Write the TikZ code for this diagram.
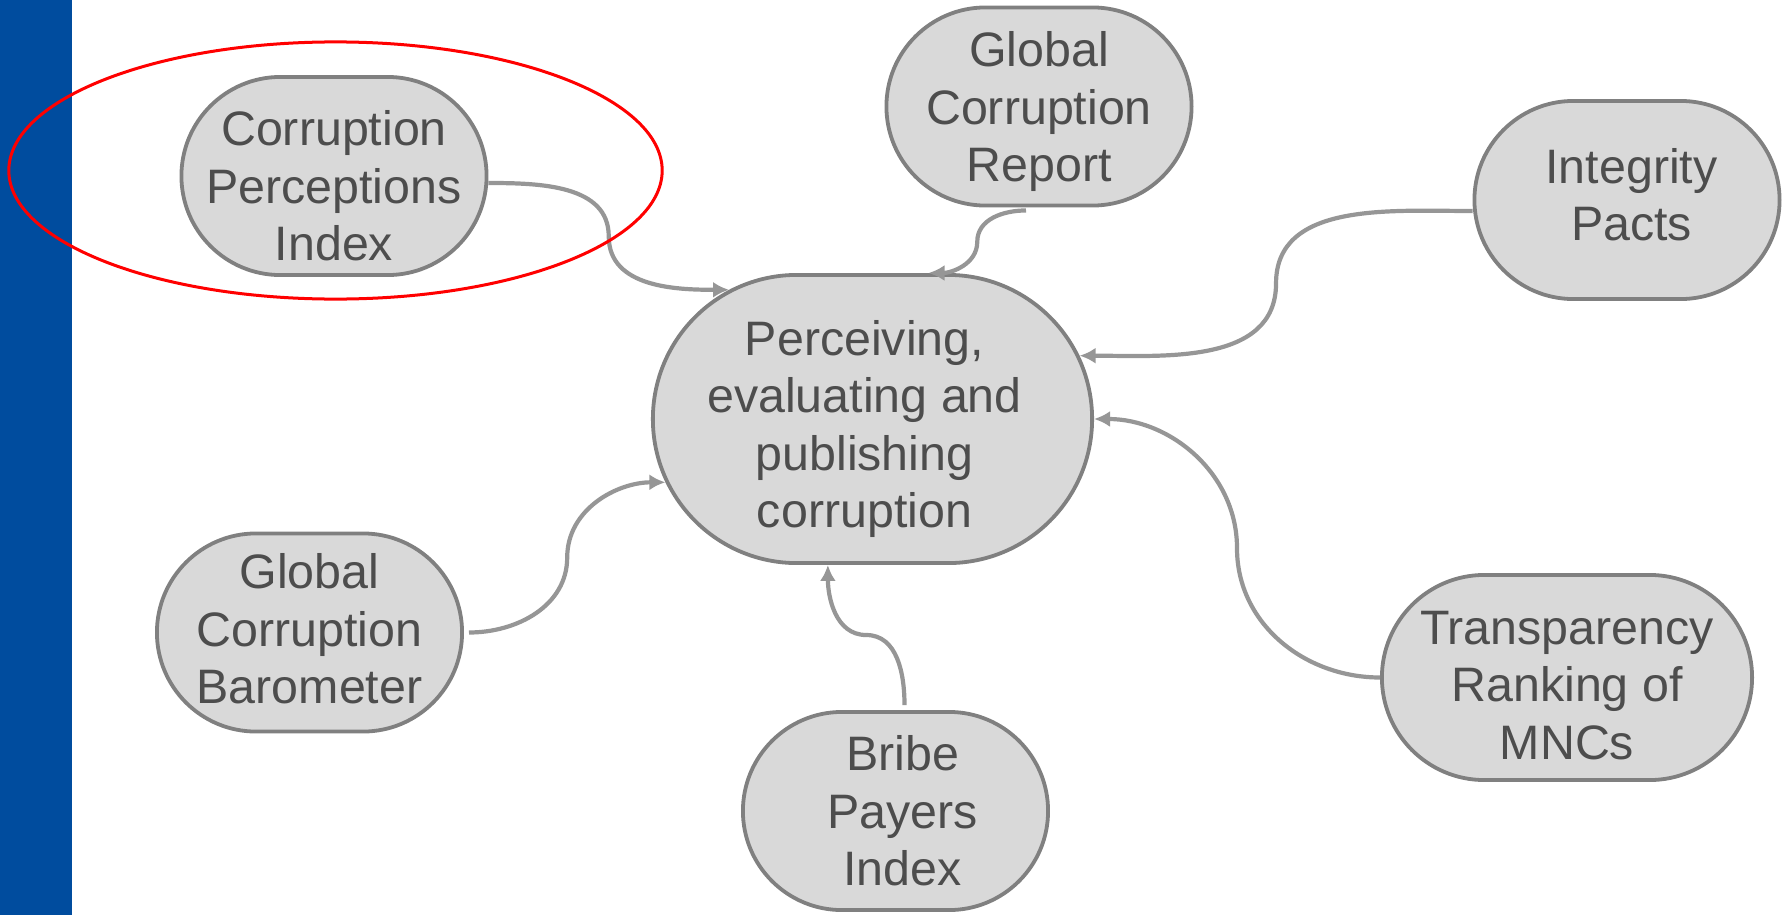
\documentclass[tikz,border=0pt]{standalone}
\usepackage{fontspec}
\setmainfont{Liberation Sans}
\usetikzlibrary{shapes.misc,arrows.meta,calc}

\definecolor{barblue}{RGB}{0,76,158}
\definecolor{boxfill}{RGB}{217,217,217}
\definecolor{boxline}{RGB}{128,128,128}
\definecolor{linkgray}{RGB}{150,150,150}
\definecolor{textgray}{RGB}{77,77,77}

\tikzset{topic/.style={
    	rounded rectangle, draw=boxline, fill=boxfill, line width=0.038cm,
    	inner sep=0pt, minimum width=3.05cm, minimum height=1.98cm
  	},
  	topic text/.style={
  		text=textgray, align=center, inner sep=0pt,
  		font=\fontsize{13.75}{16.3}\selectfont
  	},
  	link/.style={linkgray, line width=0.042cm, -{Latex[length=0.16cm,width=0.16cm]}}
}

\begin{document}
\begin{tikzpicture}[x=0.01cm, y=-0.01cm]
		\useasboundingbox (0,0) rectangle (1787,915);
		\fill [barblue] (0,0) rectangle (72,915);
		% centre and the six sources round it
		\node [topic, minimum width=4.39cm, minimum height=2.88cm] (ctr) at (872.5,419) {};
		\node [topic] (cpi) at (334,176) {};
		\node [topic] (gcr) at (1039,106.5) {};
		\node [topic] (ip) at (1627,200) {};
		\node [topic] (gcb) at (309.5,632.5) {};
		\node [topic] (bpi) at (895.5,811) {};
		\node [topic, minimum width=3.7cm, minimum height=2.05cm] (mnc) at (1567,677.5) {};
		% texts, set a little off the middle as in the slide
		\node [topic text] (ctr txt) at ([xshift=-0.08cm,yshift=-0.1cm]ctr.center) {Perceiving,\\evaluating and\\publishing\\corruption};
		\node [topic text] (cpi txt) at ([yshift=-0.1cm]cpi.center) {Corruption\\Perceptions\\Index};
		\node [topic text] (gcr txt) at ([yshift=-0.05cm]gcr.center) {Global\\Corruption\\Report};
		\node [topic text] (ip txt) at ([xshift=0.045cm,yshift=0.05cm]ip.center) {Integrity\\Pacts};
		\node [topic text] (gcb txt) at ([yshift=0.035cm]gcb.center) {Global\\Corruption\\Barometer};
		\node [topic text] (bpi txt) at ([xshift=0.07cm]bpi.center) {Bribe\\Payers\\Index};
		\node [topic text] (mnc txt) at ([yshift=-0.08cm]mnc.center) {Transparency\\Ranking of\\MNCs};
		% curved links, bent at half way
		\draw [link] ([yshift=-0.07cm]cpi.east) coordinate (s1) to[out=0,in=90] ($(s1)!0.5!(ctr.138)$) to[out=-90,in=180] (ctr.138);
		\draw [link] ([xshift=-0.13cm,yshift=-0.03cm]gcr.south) coordinate (s2) to[out=180,in=90] ($(s2)!0.5!(ctr.69)$) to[out=-90,in=0] (ctr.69);
		\draw [link] ([yshift=-0.11cm]ip.west) coordinate (s3) to[out=180,in=90] ($(s3)!0.5!(ctr.17)$) to[out=-90,in=0] (ctr.17);
		\draw [link] ([xshift=0.05cm]gcb.east) coordinate (s4) to[out=0,in=-90] ($(s4)!0.5!(ctr.197)$) to[out=90,in=180] (ctr.197);
		\draw [link] ([xshift=0.09cm,yshift=0.05cm]bpi.north) coordinate (s5) to[out=90,in=0] ($(s5)!0.5!(ctr.253)$) to[out=180,in=-90] (ctr.253);
		\draw [link] (mnc.west) coordinate (s6) to[out=180,in=-90] ($(s6)!0.5!(ctr.east)$) to[out=90,in=0] (ctr.east);
		\draw [red, line width=0.03cm] (335.5,170.5) ellipse [x radius=3.265cm, y radius=1.285cm];
	\end{tikzpicture}
\end{document}
